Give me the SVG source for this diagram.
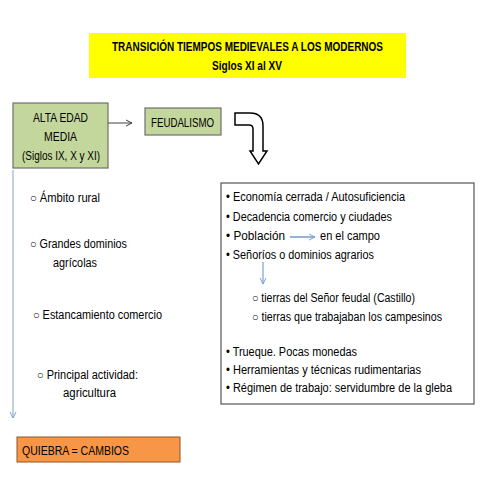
<svg xmlns="http://www.w3.org/2000/svg" width="480" height="480" viewBox="0 0 480 480">
<style>
text{font-family:"Liberation Sans",Arial,sans-serif;font-size:12px;fill:#000}
.title{font-weight:bold;font-size:12px}
.green{fill:#C3D69B;stroke:#6F6F6F;stroke-width:1.2}
</style>
<defs>
<marker id="open" markerWidth="8" markerHeight="8" refX="7" refY="4" orient="auto" markerUnits="userSpaceOnUse">
<path d="M1,1 L7,4 L1,7" fill="none" stroke="#404040" stroke-width="1"/>
</marker>
<marker id="blue" markerWidth="8" markerHeight="8" refX="7" refY="4" orient="auto" markerUnits="userSpaceOnUse">
<path d="M1,1 L7,4 L1,7" fill="none" stroke="#7F9FCC" stroke-width="1"/>
</marker>
</defs>
<rect width="480" height="480" fill="#fff"/>

<g id="title">
<rect x="89" y="33" width="317" height="45" fill="#FFFF00"/>
<text class="title" x="112" y="51" textLength="271" lengthAdjust="spacingAndGlyphs">TRANSICIÓN TIEMPOS MEDIEVALES A LOS MODERNOS</text>
<text class="title" x="212" y="70" textLength="70" lengthAdjust="spacingAndGlyphs">Siglos XI al XV</text>
</g>

<g id="alta-edad-media">
<rect class="green" x="13" y="103" width="95" height="65"/>
<text x="33" y="122" textLength="55" lengthAdjust="spacingAndGlyphs">ALTA EDAD</text>
<text x="44" y="141" textLength="33" lengthAdjust="spacingAndGlyphs">MEDIA</text>
<text x="22" y="160" textLength="78" lengthAdjust="spacingAndGlyphs">(Siglos IX, X y XI)</text>
</g>

<g id="feudalismo">
<rect class="green" x="145" y="108" width="76" height="27"/>
<text x="151" y="127" textLength="63" lengthAdjust="spacingAndGlyphs">FEUDALISMO</text>
</g>

<g id="left-list">
<text x="30" y="202" textLength="70" lengthAdjust="spacingAndGlyphs">○ Ámbito rural</text>
<text x="30" y="248" textLength="97" lengthAdjust="spacingAndGlyphs">○ Grandes dominios</text>
<text x="53" y="267" textLength="44" lengthAdjust="spacingAndGlyphs">agrícolas</text>
<text x="33" y="319" textLength="129" lengthAdjust="spacingAndGlyphs">○ Estancamiento comercio</text>
<text x="37" y="379" textLength="101" lengthAdjust="spacingAndGlyphs">○ Principal actividad:</text>
<text x="63" y="397" textLength="53" lengthAdjust="spacingAndGlyphs">agricultura</text>
</g>

<g id="feudal-box">
<rect x="221" y="183" width="253" height="221" fill="#fff" stroke="#555" stroke-width="1.2"/>
<text x="226" y="201" textLength="179" lengthAdjust="spacingAndGlyphs">• Economía cerrada / Autosuficiencia</text>
<text x="226" y="221" textLength="166" lengthAdjust="spacingAndGlyphs">• Decadencia comercio y ciudades</text>
<text x="226" y="240" textLength="59" lengthAdjust="spacingAndGlyphs">• Población</text>
<text x="320" y="240" textLength="60" lengthAdjust="spacingAndGlyphs">en el campo</text>
<text x="226" y="259" textLength="148" lengthAdjust="spacingAndGlyphs">• Señoríos o dominios agrarios</text>
<text x="252" y="302" textLength="163" lengthAdjust="spacingAndGlyphs">○ tierras del Señor feudal (Castillo)</text>
<text x="252" y="321" textLength="190" lengthAdjust="spacingAndGlyphs">○ tierras que trabajaban los campesinos</text>
<text x="226" y="356" textLength="131" lengthAdjust="spacingAndGlyphs">• Trueque.  Pocas monedas</text>
<text x="226" y="374" textLength="195" lengthAdjust="spacingAndGlyphs">• Herramientas y técnicas rudimentarias</text>
<text x="226" y="392" textLength="226" lengthAdjust="spacingAndGlyphs">• Régimen de trabajo:  servidumbre de la gleba</text>
</g>

<g id="quiebra">
<rect x="17" y="437" width="163" height="25" fill="#F79646" stroke="#8C5526" stroke-width="1"/>
<text x="22" y="455" textLength="107" lengthAdjust="spacingAndGlyphs">QUIEBRA  =  CAMBIOS</text>
</g>

<g id="connectors">
<line x1="108" y1="123" x2="132" y2="123" stroke="#404040" stroke-width="1" marker-end="url(#open)"/>
<line x1="13" y1="170" x2="13" y2="418" stroke="#95B3D7" stroke-width="1.2" marker-end="url(#blue)"/>
<line x1="290" y1="237" x2="315" y2="237" stroke="#4F81BD" stroke-width="1.2" marker-end="url(#blue)"/>
<line x1="263" y1="262" x2="263" y2="284" stroke="#7F9FCC" stroke-width="1.2" marker-end="url(#blue)"/>
<path d="M235,113 H250 Q263,113 263,126 V151 H267 L258.5,164 L250,151 H253 V129 Q253,125 249,125 H235 Z" fill="#fff" stroke="#000" stroke-width="1.5" stroke-linejoin="miter"/>
</g>
</svg>
